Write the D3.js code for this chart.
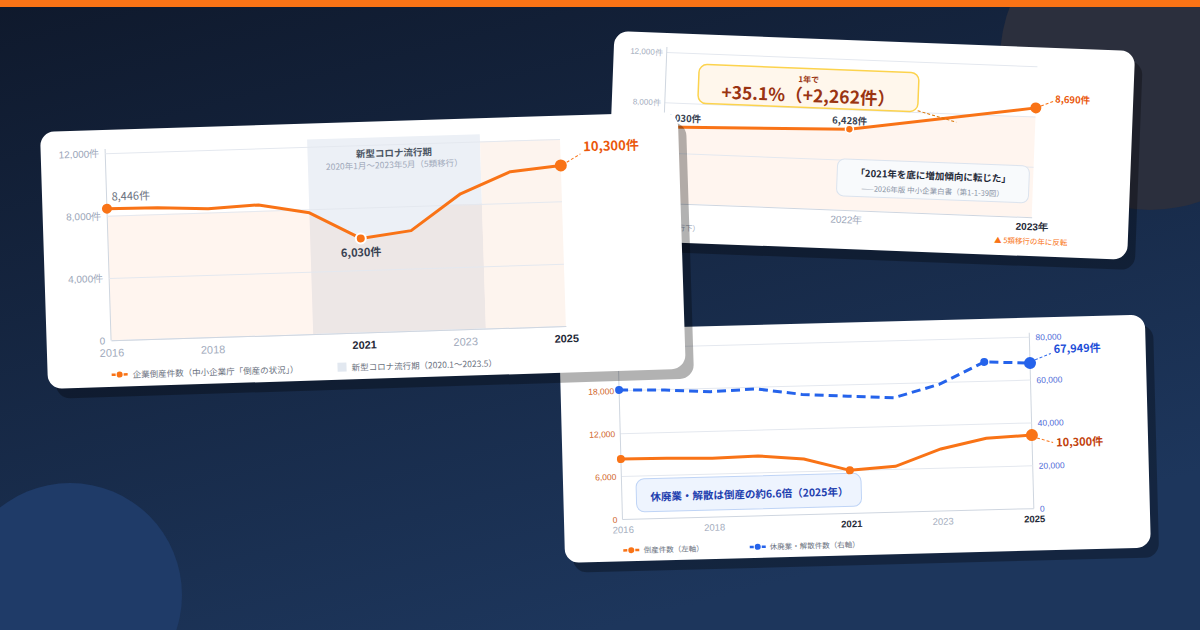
<!DOCTYPE html>
<html>
<head>
<meta charset="utf-8">
<script src="https://cdn.jsdelivr.net/npm/d3@7"></script>
<style>
  html, body { margin: 0; padding: 0; background: #111b30; }
  svg { display: block; font-family: "Noto Sans CJK JP", "Noto Sans", sans-serif; }
</style>
</head>
<body>
<svg id="chart" width="1200" height="630"></svg>
<script>
// data
const years = [2016, 2017, 2018, 2019, 2020, 2021, 2022, 2023, 2024, 2025]
const bankruptcies = [8446, 8405, 8235, 8383, 7773, 6030, 6428, 8690, 10006, 10300]
const closures = [60400, 59800, 58500, 59200, 56100, 54700, 53400, 59100, 69000, 67949]
const countTicks = [0, 4000, 8000, 12000]
const leftTicks = [0, 6000, 12000, 18000, 24000]
const rightTicks = [0, 20000, 40000, 60000, 80000]
const yearTicks = [2016, 2018, 2021, 2023, 2025]
const boldYears = [2021, 2025]
const markedYears = [2016, 2021, 2025]
const zoomYears = [2021, 2022, 2023]
const covidPeriod = [2020, 2023 + 5 / 12]
const fillCap = 8000

const rows = years.map((y, i) => ({ year: y, b: bankruptcies[i], c: closures[i] }))
const fmt = d3.format(',')

const W = 1200
const H = 630
const svg = d3.select('#chart')
const ORANGE = '#f97316'
const BLUE = '#2563eb'

// background
const defs = svg.append('defs')
const bg = defs.append('linearGradient').attr('id', 'bg')
  .attr('x1', 0).attr('y1', 0).attr('x2', 0.5).attr('y2', 1)
bg.append('stop').attr('offset', 0).attr('stop-color', '#0f192c')
bg.append('stop').attr('offset', 1).attr('stop-color', '#1d365c')
svg.append('rect').attr('width', W).attr('height', H).attr('fill', 'url(#bg)')
svg.append('circle').attr('cx', 1150).attr('cy', 60).attr('r', 150).attr('fill', '#2b2f3d')
svg.append('circle').attr('cx', 70).attr('cy', 595).attr('r', 112).attr('fill', '#1f3b68')
svg.append('rect').attr('width', W).attr('height', 7).attr('fill', ORANGE)

function makeCard (x, y, angle, w, h) {
  const g = svg.append('g').attr('transform', `translate(${x},${y}) rotate(${angle})`)
  g.append('rect').attr('x', 8).attr('y', 10).attr('width', w).attr('height', h)
    .attr('rx', 14).attr('fill', 'rgba(0,0,0,0.3)')
  g.append('rect').attr('width', w).attr('height', h).attr('rx', 14).attr('fill', '#fff')
  return g
}

function styleAxis (g, color, size) {
  g.selectAll('.tick line').attr('stroke', '#e4e8ef')
  g.selectAll('.domain').attr('stroke', '#cfd6e0')
  g.selectAll('text').attr('fill', color).attr('font-size', size).attr('font-family', null)
}

function leader (g, x1, y1, x2, y2, color) {
  g.append('line').attr('x1', x1).attr('y1', y1).attr('x2', x2).attr('y2', y2)
    .attr('stroke', color).attr('stroke-width', 1).attr('stroke-dasharray', '3 2')
}

function label (g, x, y, text, size, color, weight, anchor) {
  return g.append('text').attr('x', x).attr('y', y).text(text)
    .attr('font-size', size).attr('fill', color)
    .attr('font-weight', weight || 400).attr('text-anchor', anchor || 'start')
}

function legendLine (g, x, y, color) {
  g.append('line').attr('x1', x).attr('x2', x + 16).attr('y1', y).attr('y2', y)
    .attr('stroke', color).attr('stroke-width', 2.5).attr('stroke-dasharray', '4 2')
  g.append('circle').attr('cx', x + 8).attr('cy', y).attr('r', 3).attr('fill', color)
}

// area under the line, only shaded up to the cap level and left of xEnd
function cappedArea (g, id, data, x, y, xEnd) {
  defs.append('clipPath').attr('id', id).append('rect')
    .attr('x', 0).attr('y', y(fillCap)).attr('width', xEnd).attr('height', y(0) - y(fillCap))
  g.append('path').datum(data)
    .attr('clip-path', `url(#${id})`)
    .attr('d', d3.area().x(d => x(d.year)).y0(y(0)).y1(d => y(d.b)))
    .attr('fill', ORANGE).attr('opacity', 0.07)
}

// ---------- top right card (zoom 2021-2023) ----------
const c2 = makeCard(614.5, 31, 2.2, 521, 209)
const x2 = d3.scaleLinear().domain([2021, 2023]).range([53, 424])
const y2 = d3.scaleLinear().domain([0, 12000]).range([170, 19])
const zoomRows = rows.filter(d => zoomYears.includes(d.year))

cappedArea(c2, 'clip2', zoomRows, x2, y2, 521)

const ay2 = c2.append('g').attr('transform', `translate(${x2(2021)},0)`)
  .call(d3.axisLeft(y2).tickValues(countTicks.filter(d => d > 0))
    .tickSize(-(x2(2023) - x2(2021))).tickSizeOuter(0).tickPadding(4)
    .tickFormat(d => fmt(d) + '件'))
styleAxis(ay2, '#a3acbd', 8)
ay2.select('.domain').remove()
c2.append('line').attr('x1', x2(2021)).attr('x2', x2(2021)).attr('y1', 14).attr('y2', y2(0))
  .attr('stroke', '#cfd6e0')

const ax2 = c2.append('g').attr('transform', `translate(0,${y2(0)})`)
  .call(d3.axisBottom(x2).tickValues(zoomYears).tickSize(0).tickSizeOuter(0).tickPadding(6)
    .tickFormat(d => d + '年'))
styleAxis(ax2, '#9aa5b8', 10)
ax2.selectAll('text').filter(d => d === 2023).attr('fill', '#1f2937').attr('font-weight', 700)
label(c2, x2(2021) + 10, 197, '（コロナ流行下）', 7.5, '#9aa5b8', 400, 'middle')
label(c2, x2(2023), 197, '▲ 5類移行の年に反転', 7.5, ORANGE, 400, 'middle')

c2.append('path').datum(zoomRows)
  .attr('d', d3.line().x(d => x2(d.year)).y(d => y2(d.b)))
  .attr('fill', 'none').attr('stroke', ORANGE).attr('stroke-width', 3)
c2.selectAll('.dot').data(zoomRows.filter(d => d.year > 2021)).enter().append('circle')
  .attr('cx', d => x2(d.year)).attr('cy', d => y2(d.b))
  .attr('r', d => d.year === 2023 ? 5.5 : 4).attr('fill', ORANGE)
  .attr('stroke', '#fff').attr('stroke-width', d => d.year === 2023 ? 0 : 1.5)

label(c2, x2(2021) + 2, y2(bankruptcies[5]) - 6, fmt(bankruptcies[5]) + '件', 9.5, '#374151', 600)
label(c2, x2(2022), y2(bankruptcies[6]) - 5, fmt(bankruptcies[6]) + '件', 9.5, '#374151', 600, 'middle')
label(c2, x2(2023) + 19, y2(bankruptcies[7]) - 6, fmt(bankruptcies[7]) + '件', 9.5, '#ea580c', 700)
leader(c2, x2(2023) + 5, y2(bankruptcies[7]) - 2, x2(2023) + 17, y2(bankruptcies[7]) - 7, ORANGE)

// callout: growth
c2.append('rect').attr('x', 86).attr('y', 30).attr('width', 220).attr('height', 39).attr('rx', 8)
  .attr('fill', '#fff7ec').attr('stroke', '#fcd34d').attr('stroke-width', 1.5)
label(c2, 196, 44, '1年で', 8, '#9a3412', 700, 'middle')
label(c2, 196, 63.5, '+35.1%（+2,262件）', 17.5, '#9a3412', 700, 'middle')
leader(c2, 306, 68, 345, 78, '#d97706')

// callout: quote
c2.append('rect').attr('x', 228).attr('y', 119).attr('width', 192).attr('height', 37).attr('rx', 7)
  .attr('fill', '#f8fafc').attr('stroke', '#dbe3ee')
label(c2, 324, 136, '「2021年を底に増加傾向に転じた」', 9.5, '#1f2937', 700, 'middle')
label(c2, 324, 150.5, '——2026年版 中小企業白書（第1-1-39図）', 7.5, '#8a94a6', 400, 'middle')

// ---------- bottom right card (two series) ----------
const c3 = makeCard(559, 330, -1.5, 586, 233)
const x3 = d3.scaleLinear().domain([2016, 2025]).range([58.5, 470])
const yL = d3.scaleLinear().domain([0, 24000]).range([191, 19.5])
const yR = d3.scaleLinear().domain([0, 80000]).range([191, 19.5])

const ar3 = c3.append('g').attr('transform', `translate(${x3(2025)},0)`)
  .call(d3.axisRight(yR).tickValues(rightTicks).tickSize(0).tickSizeOuter(0).tickPadding(6)
    .tickFormat(fmt))
styleAxis(ar3, '#4f6bd8', 8.5)
ar3.select('.domain').attr('d', `M0,15V${yR(0)}`)
c3.selectAll('.grid3').data(rightTicks).enter().append('line')
  .attr('x1', x3(2016)).attr('x2', x3(2025))
  .attr('y1', d => yR(d)).attr('y2', d => yR(d))
  .attr('stroke', d => d === 0 ? '#cfd6e0' : '#e4e8ef')
const al3 = c3.append('g').attr('transform', `translate(${x3(2016)},0)`)
  .call(d3.axisLeft(yL).tickValues(leftTicks).tickSize(0).tickSizeOuter(0).tickPadding(5)
    .tickFormat(fmt))
styleAxis(al3, '#d0652a', 8.5)
al3.select('.domain').attr('d', `M0,15V${yL(0)}`)

const ax3 = c3.append('g').attr('transform', `translate(0,${yL(0)})`)
  .call(d3.axisBottom(x3).tickValues(yearTicks).tickSize(0).tickSizeOuter(0).tickPadding(7)
    .tickFormat(d3.format('d')))
styleAxis(ax3, '#a3acbd', 9.5)
ax3.select('.domain').remove()
ax3.selectAll('text').filter(d => boldYears.includes(d)).attr('fill', '#1f2937').attr('font-weight', 700)

c3.append('rect').attr('x', 73).attr('y', 151).attr('width', 225).attr('height', 33).attr('rx', 8)
  .attr('fill', '#eef4fe').attr('stroke', '#bfd4f6')
label(c3, 186, 173, '休廃業・解散は倒産の約6.6倍（2025年）', 10.5, '#1e40af', 700, 'middle')

c3.append('path').datum(rows)
  .attr('d', d3.line().x(d => x3(d.year)).y(d => yR(d.c)))
  .attr('fill', 'none').attr('stroke', BLUE).attr('stroke-width', 3).attr('stroke-dasharray', '9 5')
c3.append('path').datum(rows)
  .attr('d', d3.line().x(d => x3(d.year)).y(d => yL(d.b)))
  .attr('fill', 'none').attr('stroke', ORANGE).attr('stroke-width', 3)
c3.selectAll('.dotc').data(rows.filter(d => [2016, 2024, 2025].includes(d.year))).enter().append('circle')
  .attr('cx', d => x3(d.year)).attr('cy', d => yR(d.c))
  .attr('r', d => d.year === 2025 ? 6 : 4).attr('fill', BLUE)
c3.selectAll('.dotb').data(rows.filter(d => markedYears.includes(d.year))).enter().append('circle')
  .attr('cx', d => x3(d.year)).attr('cy', d => yL(d.b))
  .attr('r', d => d.year === 2025 ? 6 : 4).attr('fill', ORANGE)

leader(c3, x3(2025) + 5, yR(closures[9]) - 3, x3(2025) + 21, yR(closures[9]) - 9, BLUE)
label(c3, x3(2025) + 24, yR(closures[9]) - 9.5, fmt(closures[9]) + '件', 11, '#1d4ed8', 700)
leader(c3, x3(2025) + 5, yL(bankruptcies[9]) + 3, x3(2025) + 21, yL(bankruptcies[9]) + 8, ORANGE)
label(c3, x3(2025) + 24, yL(bankruptcies[9]) + 12, fmt(bankruptcies[9]) + '件', 11, '#c2410c', 700)

legendLine(c3, 58.5, 222, ORANGE)
label(c3, 79, 225, '倒産件数（左軸）', 7.5, '#6b7280')
legendLine(c3, 185, 222, BLUE)
label(c3, 205, 225, '休廃業・解散件数（右軸）', 7.5, '#6b7280')

// ---------- left card (main chart) ----------
const c1 = makeCard(40, 132, -1.8, 638, 257)
const x1 = d3.scaleLinear().domain([2016, 2025]).range([64.5, 519.5])
const y1 = d3.scaleLinear().domain([0, 12000]).range([210.5, 23.3])

c1.append('rect')
  .attr('x', x1(covidPeriod[0])).attr('y', 16)
  .attr('width', x1(covidPeriod[1]) - x1(covidPeriod[0])).attr('height', y1(0) - 16)
  .attr('fill', '#ecf0f6')
c1.append('rect')
  .attr('x', x1(covidPeriod[1])).attr('y', y1(12000))
  .attr('width', x1(2025) - x1(covidPeriod[1])).attr('height', y1(0) - y1(12000))
  .attr('fill', '#fdf4ee')
cappedArea(c1, 'clip1', rows, x1, y1, x1(covidPeriod[1]))

const ay1 = c1.append('g').attr('transform', `translate(${x1(2016)},0)`)
  .call(d3.axisLeft(y1).tickValues(countTicks)
    .tickSize(-(x1(2025) - x1(2016))).tickSizeOuter(0).tickPadding(6)
    .tickFormat(d => fmt(d) + (d ? '件' : '')))
styleAxis(ay1, '#9aa5b8', 10)
ay1.select('.domain').attr('d', `M0,19V${y1(0)}`)

const ax1 = c1.append('g').attr('transform', `translate(0,${y1(0)})`)
  .call(d3.axisBottom(x1).tickValues(yearTicks).tickSize(0).tickSizeOuter(0).tickPadding(8.5)
    .tickFormat(d3.format('d')))
styleAxis(ax1, '#a3acbd', 11)
ax1.selectAll('text').filter(d => boldYears.includes(d)).attr('fill', '#1f2937').attr('font-weight', 700)

const midCovid = (x1(covidPeriod[0]) + x1(covidPeriod[1])) / 2
label(c1, midCovid, 35.5, '新型コロナ流行期', 9.5, '#4b5563', 700, 'middle')
label(c1, midCovid, 47, '2020年1月〜2023年5月（5類移行）', 8.5, '#a0a9ba', 400, 'middle')

c1.append('path').datum(rows)
  .attr('d', d3.line().x(d => x1(d.year)).y(d => y1(d.b)))
  .attr('fill', 'none').attr('stroke', ORANGE).attr('stroke-width', 3).attr('stroke-linejoin', 'round')
c1.selectAll('.dot').data(rows.filter(d => markedYears.includes(d.year))).enter().append('circle')
  .attr('cx', d => x1(d.year)).attr('cy', d => y1(d.b))
  .attr('r', d => d.year === 2025 ? 6 : 5).attr('fill', ORANGE)
  .attr('stroke', '#fff').attr('stroke-width', d => d.year === 2021 ? 2 : 0)

label(c1, x1(2016) + 5, y1(bankruptcies[0]) - 8, fmt(bankruptcies[0]) + '件', 11, '#6b7280')
label(c1, x1(2021), y1(bankruptcies[5]) + 18, fmt(bankruptcies[5]) + '件', 11, '#374151', 700, 'middle')
leader(c1, x1(2025) + 6, y1(bankruptcies[9]) - 3, x1(2025) + 20, y1(bankruptcies[9]) - 11, ORANGE)
label(c1, x1(2025) + 23, y1(bankruptcies[9]) - 13.5, fmt(bankruptcies[9]) + '件', 13, '#ea580c', 700)

legendLine(c1, 64, 245, ORANGE)
label(c1, 85, 248.5, '企業倒産件数（中小企業庁「倒産の状況」）', 8.5, '#6b7280')
c1.append('rect').attr('x', 290).attr('y', 240).attr('width', 9).attr('height', 9).attr('fill', '#e2e8f0')
label(c1, 304, 248.5, '新型コロナ流行期（2020.1〜2023.5）', 8.5, '#6b7280')
</script>
</body>
</html>
